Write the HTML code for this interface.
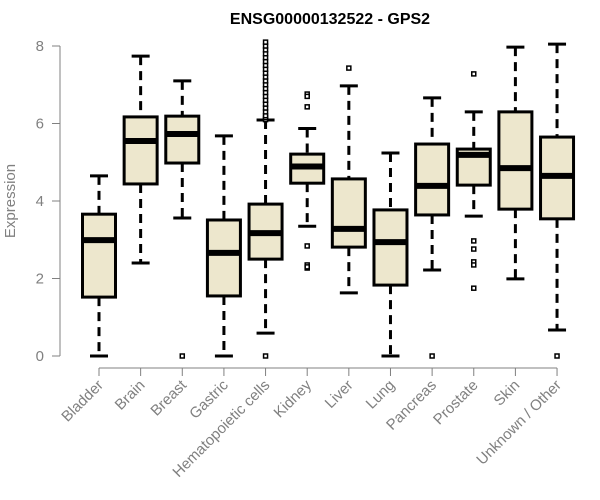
<!DOCTYPE html>
<html><head><meta charset="utf-8"><style>
body{margin:0;background:#fff}
svg{display:block;font-family:"Liberation Sans",sans-serif}
</style></head><body>
<svg id="chart" width="600" height="500">
<text x="330" y="24" text-anchor="middle" font-size="16" font-weight="bold">ENSG00000132522 - GPS2</text>
<text transform="translate(15,201) rotate(-90)" text-anchor="middle" font-size="15" fill="#808080">Expression</text>
<g id="plot"></g>
</svg>
<script>
const categories=["Bladder","Brain","Breast","Gastric","Hematopoietic cells","Kidney","Liver","Lung","Pancreas","Prostate","Skin","Unknown / Other"];
const lows=[0,2.40,3.56,0,0.59,3.35,1.63,0,2.22,3.61,1.99,0.67];
const q1s=[1.52,4.44,4.98,1.55,2.50,4.46,2.81,1.83,3.64,4.41,3.79,3.54];
const medians=[2.99,5.55,5.73,2.66,3.17,4.89,3.28,2.94,4.39,5.19,4.85,4.65];
const q3s=[3.66,6.17,6.19,3.51,3.92,5.21,4.57,3.77,5.47,5.34,6.30,5.65];
const highs=[4.65,7.74,7.10,5.68,6.09,5.87,6.97,5.24,6.66,6.30,7.97,8.05];
const outliers=[[],[],[0],[],[0,6.1,6.15,6.2,6.3,6.4,6.5,6.6,6.7,6.8,6.9,7.0,7.1,7.2,7.3,7.4,7.5,7.6,7.7,7.8,7.9,8.0,8.1],[6.76,6.7,6.43,2.84,2.35,2.27,2.3],[7.43],[],[0],[7.28,2.97,2.76,2.43,2.35,1.75],[],[0]];
const yTicks=[0,2,4,6,8];
const NS="http://www.w3.org/2000/svg";
const g=document.getElementById('plot');
const y=v=>356-v*38.75;
const x=i=>99+i*41.64;
function mk(t,a){const e=document.createElementNS(NS,t);for(const k in a)e.setAttribute(k,a[k]);g.appendChild(e);return e;}
let e=mk('line',{x1:60,x2:60,y1:y(0),y2:y(8),stroke:'#808080'});


yTicks.forEach(t=>{mk('line',{x1:52,x2:60,y1:y(t),y2:y(t),stroke:'#808080'});
 const tx=mk('text',{x:44,y:y(t)+5,'text-anchor':'end','font-size':15,fill:'#808080'});tx.textContent=t;
 
 });
e=mk('line',{x1:x(0),x2:x(11),y1:368,y2:368,stroke:'#808080'});


categories.forEach((c,i)=>{
 const cx=x(i),hw=16.5;
 mk('line',{x1:cx,x2:cx,y1:368,y2:376,stroke:'#808080'});
 const tx=mk('text',{transform:`translate(${cx+5},${386}) rotate(-45)`,'text-anchor':'end','font-size':15,fill:'#808080'});tx.textContent=c;
 
 
 const bg=document.createElementNS(NS,'g');g.appendChild(bg);
 
 
 const add=(t,a)=>{const el=document.createElementNS(NS,t);for(const k in a)el.setAttribute(k,a[k]);bg.appendChild(el);};
 add('line',{x1:cx,x2:cx,y1:y(highs[i]),y2:y(q3s[i]),stroke:'#000','stroke-width':3,'stroke-dasharray':'9,6'});
 add('line',{x1:cx,x2:cx,y1:y(q1s[i]),y2:y(lows[i]),stroke:'#000','stroke-width':3,'stroke-dasharray':'9,6'});
 add('line',{x1:cx-9,x2:cx+9,y1:y(highs[i]),y2:y(highs[i]),stroke:'#000','stroke-width':3});
 add('line',{x1:cx-9,x2:cx+9,y1:y(lows[i]),y2:y(lows[i]),stroke:'#000','stroke-width':3});
 add('rect',{x:cx-hw,y:y(q3s[i]),width:hw*2,height:y(q1s[i])-y(q3s[i]),fill:'#ede7cd',stroke:'#000','stroke-width':3});
 add('line',{x1:cx-hw,x2:cx+hw,y1:y(medians[i]),y2:y(medians[i]),stroke:'#000','stroke-width':6});
 outliers[i].forEach(v=>add('rect',{x:cx-2,y:y(v)-2,width:4,height:4,fill:'#fff',stroke:'#000','stroke-width':1.5}));
});
</script>
</body></html>
